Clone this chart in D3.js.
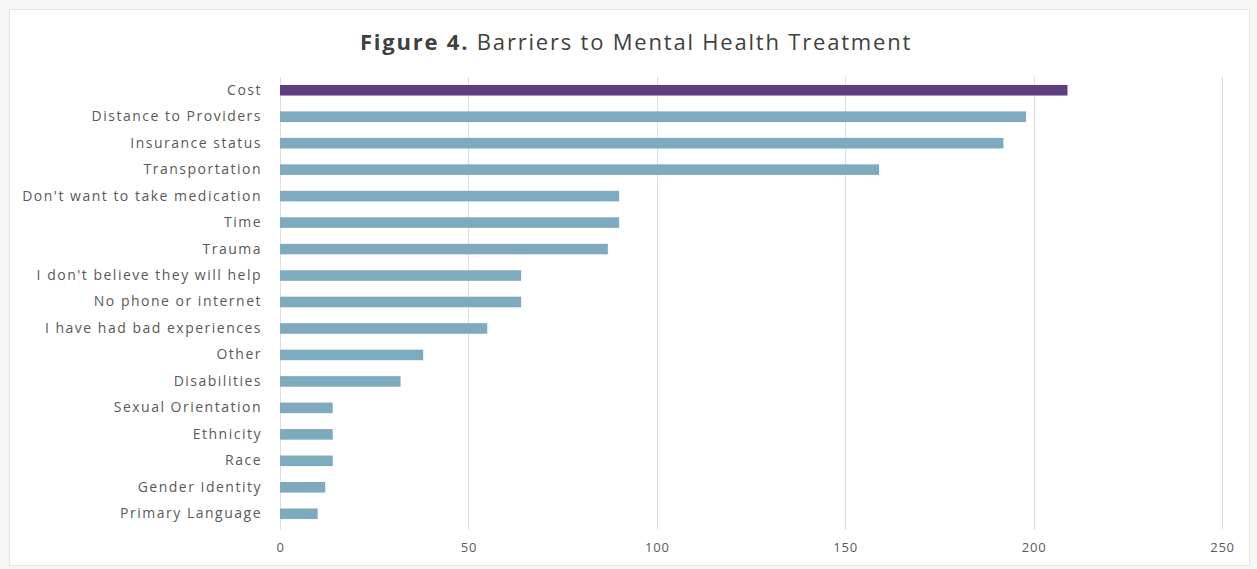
<!DOCTYPE html>
<html>
<head>
<meta charset="utf-8">
<script src="https://cdn.jsdelivr.net/npm/d3@7"></script>
<style>
  html, body { margin: 0; padding: 0; background: #f6f6f6; }
  svg { display: block; }
</style>
</head>
<body>
<svg id="chart" width="1257" height="569"></svg>
<script>
// Barrier categories, listed top to bottom
const categories = [
  "Cost",
  "Distance to Providers",
  "Insurance status",
  "Transportation",
  "Don't want to take medication",
  "Time",
  "Trauma",
  "I don't believe they will help",
  "No phone or internet",
  "I have had bad experiences",
  "Other",
  "Disabilities",
  "Sexual Orientation",
  "Ethnicity",
  "Race",
  "Gender Identity",
  "Primary Language"
];

// Number of responses per barrier
const counts = [209, 198, 192, 159, 90, 90, 87, 64, 64, 55, 38, 32, 14, 14, 14, 12, 10];

// Axis tick values
const tickValues = [0, 50, 100, 150, 200, 250];

const titleBold = "Figure 4.";
const titleRest = " Barriers to Mental Health Treatment";

const svg = d3.select("#chart");
const W = 1257, H = 569;
const margin = { left: 280, right: 36, top: 77, bottom: 42 };

// Chart panel
svg.append("rect")
  .attr("x", 9.5).attr("y", 9.5)
  .attr("width", 1240).attr("height", 556)
  .attr("fill", "#ffffff")
  .attr("stroke", "#e4e4e4");

const x = d3.scaleLinear()
  .domain([0, 250])
  .range([margin.left, 1222]);

const y = d3.scaleBand()
  .domain(categories)
  .range([margin.top, H - margin.bottom])
  .paddingInner(0.6)
  .paddingOuter(0.3);

// Vertical gridlines
svg.append("g")
  .selectAll("line")
  .data(tickValues)
  .join("line")
  .attr("x1", d => Math.round(x(d)) + 0.5)
  .attr("x2", d => Math.round(x(d)) + 0.5)
  .attr("y1", margin.top)
  .attr("y2", H - margin.bottom + 3)
  .attr("stroke", "#dedede")
  .attr("stroke-width", 1);

// Bars
svg.append("g")
  .selectAll("rect")
  .data(categories)
  .join("rect")
  .attr("x", x(0))
  .attr("y", d => y(d))
  .attr("width", (d, i) => x(counts[i]) - x(0))
  .attr("height", y.bandwidth())
  .attr("fill", (d, i) => i === 0 ? "#5c3f7c" : "#7eaabf");

// Category axis
const yAxis = svg.append("g")
  .attr("transform", `translate(${margin.left - 18},0)`)
  .call(d3.axisLeft(y).tickSize(0).tickPadding(0));
yAxis.select(".domain").remove();
yAxis.selectAll("text")
  .attr("font-family", "'Open Sans', sans-serif")
  .attr("font-size", 14)
  .attr("letter-spacing", 1.5)
  .attr("fill", "#595959");

// Value axis
const xAxis = svg.append("g")
  .attr("transform", `translate(0,${H - margin.bottom})`)
  .call(d3.axisBottom(x).tickValues(tickValues).tickSize(0).tickPadding(16));
xAxis.select(".domain").remove();
xAxis.selectAll("text")
  .attr("font-family", "'Open Sans', sans-serif")
  .attr("font-size", 13)
  .attr("letter-spacing", 0.8)
  .attr("fill", "#595959");

// Title
const title = svg.append("text")
  .attr("x", 636)
  .attr("y", 50)
  .attr("text-anchor", "middle")
  .attr("font-family", "'Open Sans', sans-serif")
  .attr("font-size", 22)
  .attr("letter-spacing", 1.8)
  .attr("fill", "#404040");
title.append("tspan").attr("font-weight", "bold").text(titleBold);
title.append("tspan").text(titleRest);
</script>
</body>
</html>
